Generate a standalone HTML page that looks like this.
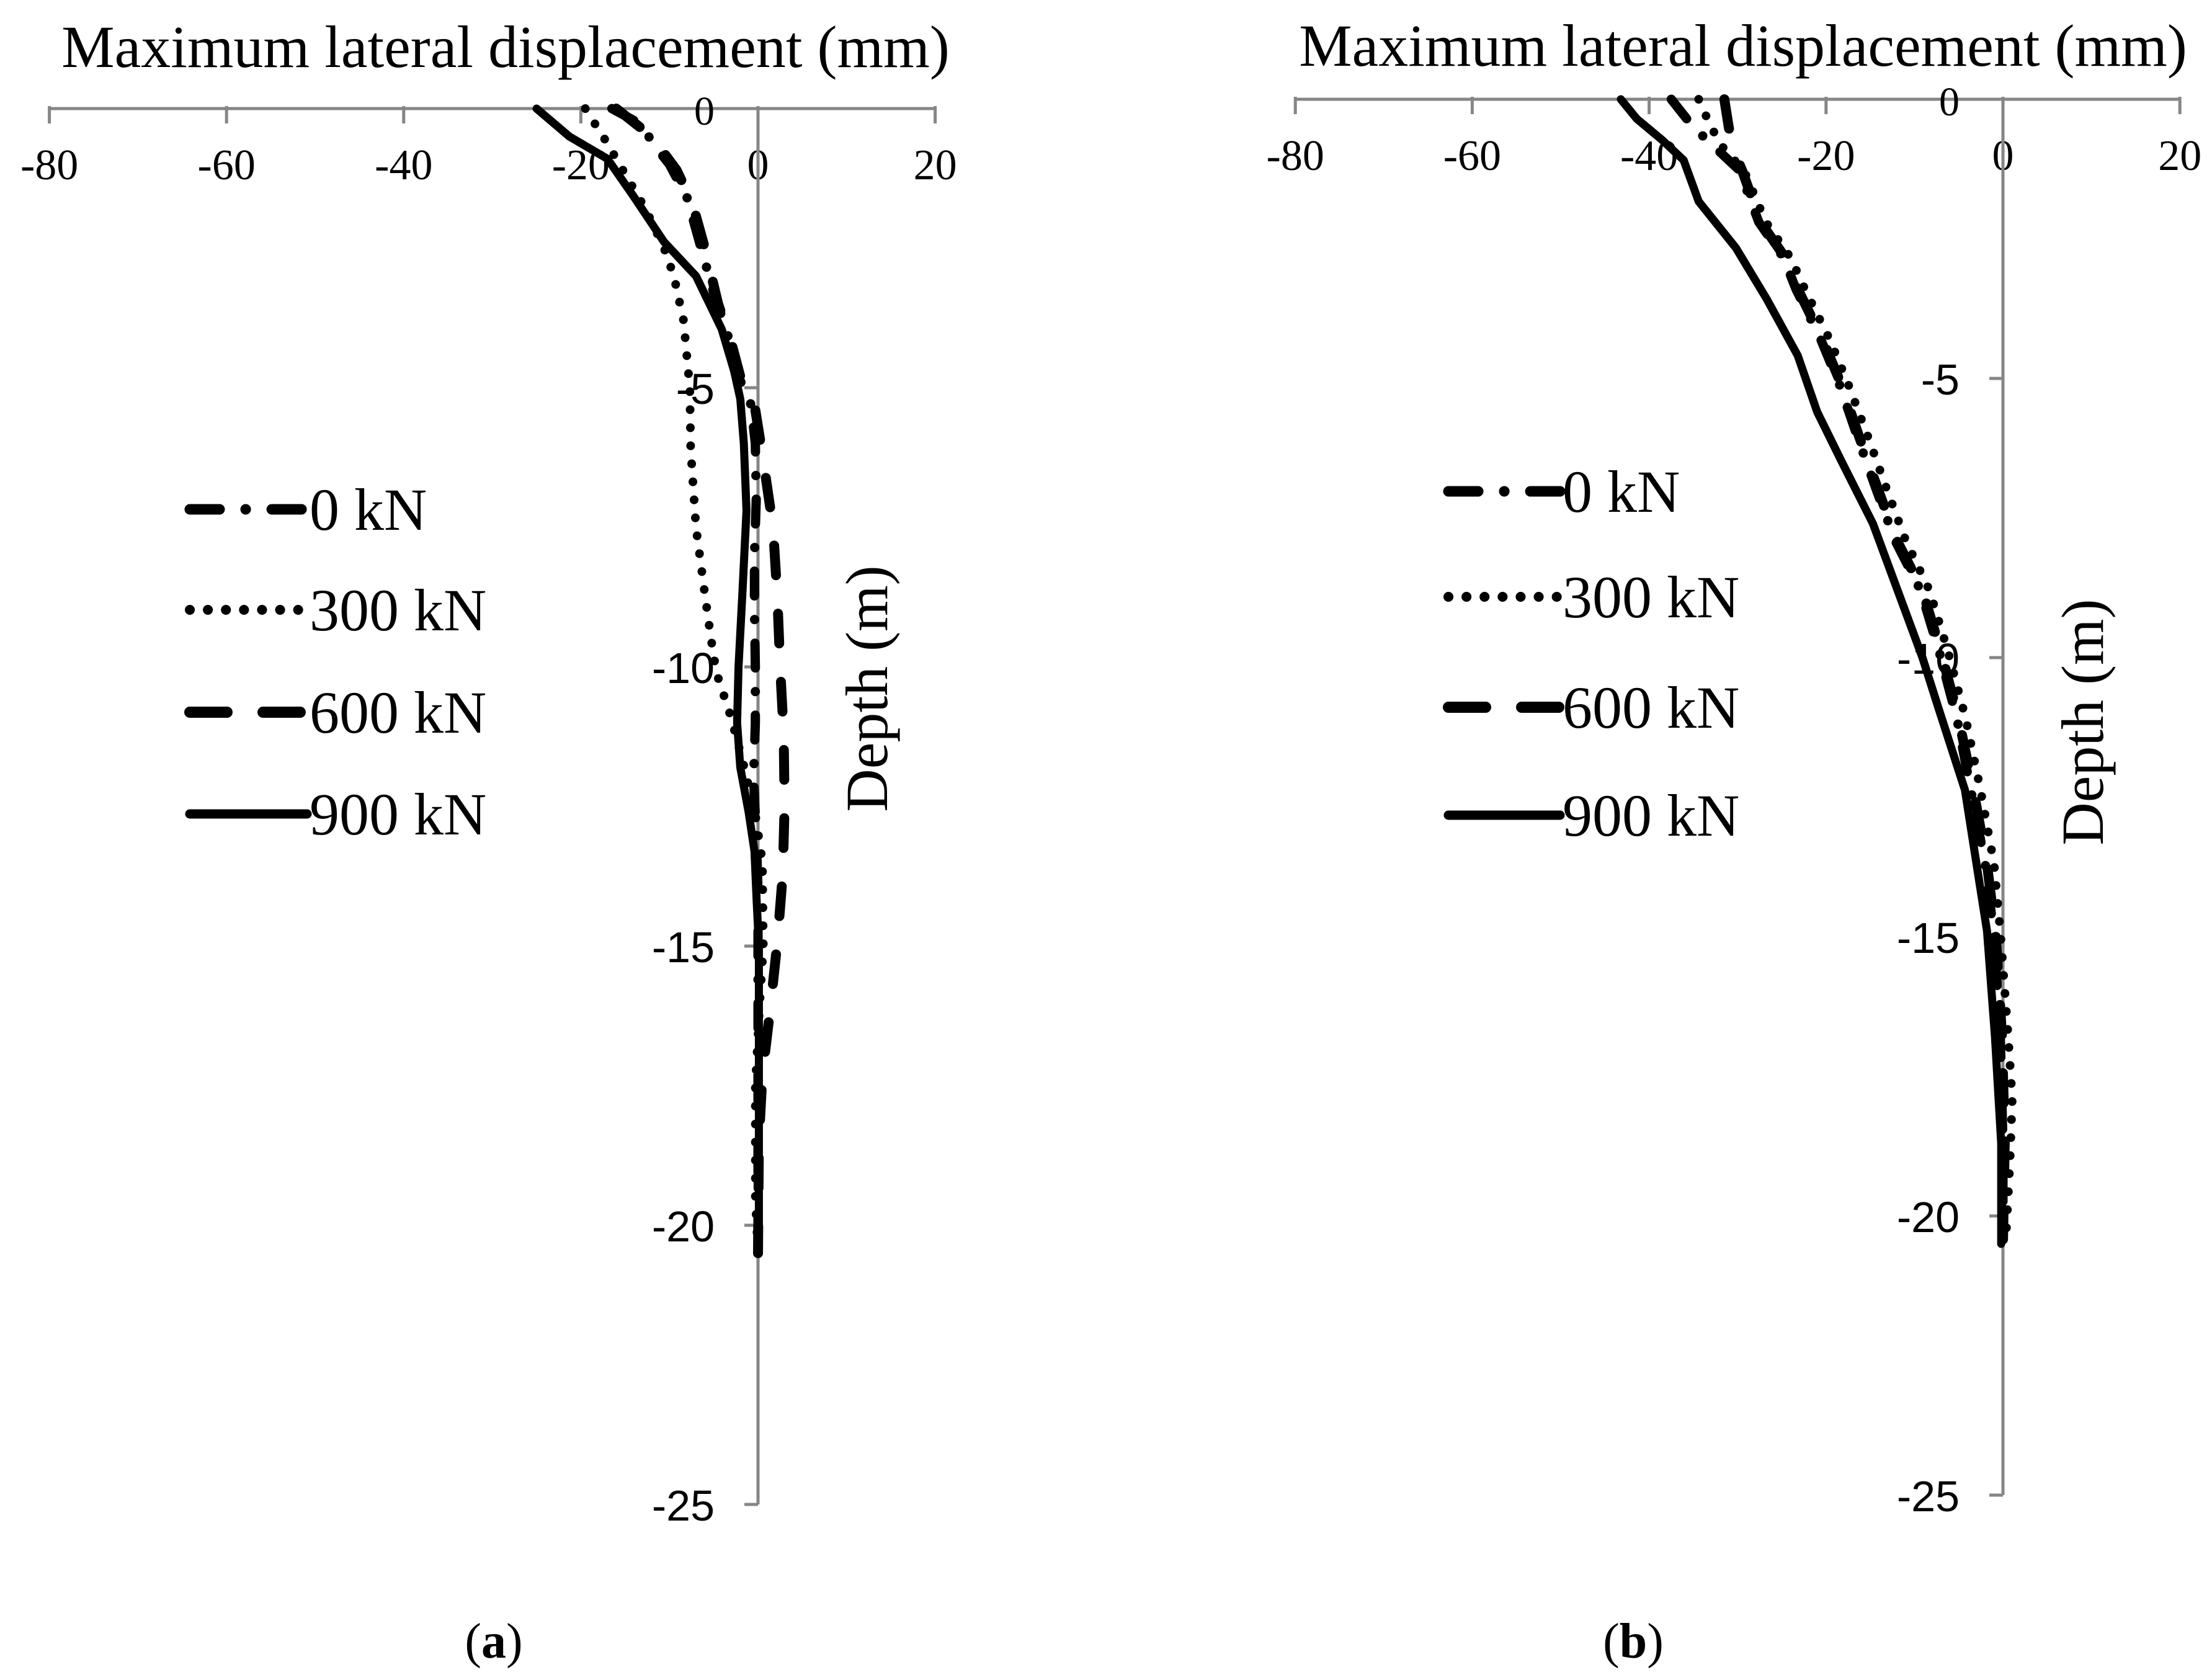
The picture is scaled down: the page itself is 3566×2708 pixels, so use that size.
<!DOCTYPE html>
<html><head><meta charset="utf-8"><style>
html,body{margin:0;padding:0;background:#fff;}
svg{display:block;}
text{font-family:"Liberation Serif",serif;fill:#000;}
.tk{font-family:"Liberation Sans",sans-serif;}
</style></head>
<body>
<svg id="chart" width="3566" height="2708" viewBox="0 0 3566 2708" xmlns="http://www.w3.org/2000/svg">
<g id="pa"></g>
<g id="pb"></g>
</svg>
<script>
// Shared ticks
const xTicks = [-80, -60, -40, -20, 0, 20];
const yTicks = [0, -5, -10, -15, -20, -25];
const seriesNames = ["0 kN", "300 kN", "600 kN", "900 kN"];

// Panel (a) data: [displacement mm, depth m]
const a0kN = [[-16.5,0],[-13,-0.3],[-12,-0.6],[-10,-1.0],[-8,-1.6],[-6.6,-2.4],[-5,-3.3],[-3.5,-4.0],[-2.5,-4.7],[-0.8,-5.3],[-0.3,-6],[-0.2,-7],[-0.4,-8],[-0.4,-9],[-0.3,-10],[-0.3,-11],[-0.5,-12],[-0.2,-13],[0,-14],[0,-17],[0,-20.5]];
const a300kN = [[-19.5,0],[-17.1,-0.6],[-12.7,-1.8],[-10.6,-2.5],[-9.5,-3.0],[-8.4,-3.8],[-7.7,-5],[-7.6,-6.1],[-7.0,-7.5],[-6.0,-8.7],[-5.3,-9.5],[-4.7,-10.1],[-3.05,-10.9],[-1.55,-11.8],[-0.25,-12.7],[0.5,-13.5],[0.6,-15],[0.2,-16],[-0.3,-17.5],[-0.3,-19.5],[0,-20.5]];
const a600kN = [[-16,0],[-12,-0.5],[-9.2,-1.1],[-7.4,-1.7],[-6,-2.5],[-4.5,-3.5],[-3,-4.2],[-2,-4.8],[-0.5,-5.2],[0.5,-6.2],[1.7,-7.5],[2.2,-8.8],[2.5,-10],[2.9,-11.2],[3.0,-12.5],[2.8,-13.7],[2.2,-14.9],[1.4,-16.1],[0.5,-17.3],[0.1,-18.5],[0,-20.5]];
const a900kN = [[-25,0],[-21.3,-0.5],[-17,-0.9],[-14.1,-1.56],[-10.6,-2.39],[-7,-3.0],[-4.1,-3.95],[-2.7,-4.7],[-2.0,-5.2],[-1.6,-6],[-1.3,-7.2],[-1.77,-8.7],[-2.2,-10],[-2.36,-11],[-2.0,-11.8],[-1.06,-12.6],[-0.4,-13.3],[-0.15,-14.2],[0.1,-15],[0.1,-18],[0.1,-20.5]];

// Panel (b) data
const b0kN = [[-37.5,0],[-35,-0.5],[-32.3,-0.9],[-29.8,-1.27],[-27.6,-2.2],[-24.8,-2.84],[-23.4,-3.4],[-20.6,-4.3],[-18.5,-5.1],[-16.4,-6.07],[-14.3,-7.0],[-12.2,-7.9],[-9.3,-8.8],[-7.2,-9.9],[-5.2,-11.1],[-3.6,-12.4],[-2.0,-13.7],[-1.0,-15],[-0.3,-16.8],[0,-18.7],[0,-20.5]];
const b300kN = [[-34.4,0],[-33,-0.5],[-31.5,-0.9],[-29.3,-1.27],[-26.8,-2.2],[-24,-2.84],[-22.4,-3.4],[-19.6,-4.3],[-17.5,-5.1],[-15.2,-6.07],[-13.1,-7.0],[-11,-7.9],[-8.3,-8.8],[-6.2,-9.9],[-4.2,-11.1],[-2.5,-12.4],[-1.0,-13.7],[-0.3,-14.9],[0.6,-16.8],[1.05,-17.9],[0.8,-19],[0.3,-20.5]];
const b600kN = [[-31.5,0],[-31,-0.5],[-30.5,-0.9],[-29.5,-1.27],[-27.4,-2.2],[-24.6,-2.84],[-23.2,-3.4],[-20.4,-4.3],[-18.3,-5.1],[-16.2,-6.07],[-14.1,-7.0],[-12,-7.9],[-9.1,-8.8],[-7.0,-9.9],[-5.0,-11.1],[-3.3,-12.4],[-1.8,-13.7],[-0.8,-15],[-0.1,-16.8],[0.2,-18.7],[0,-20.5]];
const b900kN = [[-43.2,0],[-41.4,-0.35],[-38.6,-0.72],[-36.1,-1.09],[-34.4,-1.83],[-30.2,-2.66],[-26.7,-3.58],[-23.2,-4.59],[-21.0,-5.6],[-18.2,-6.5],[-14.7,-7.6],[-11.9,-8.8],[-9.1,-10],[-7.3,-10.9],[-4.3,-12.37],[-1.8,-14.9],[-0.9,-16.8],[-0.2,-18.7],[-0.2,-20.5]];

const NS = "http://www.w3.org/2000/svg";
function mk(tag, attrs, parent){
  const e = document.createElementNS(NS, tag);
  for (const k in attrs) e.setAttribute(k, attrs[k]);
  parent.appendChild(e);
  return e;
}
const styles = [
  {dash:"40 38 0.1 38", w:15},
  {dash:"0.1 29", w:14},
  {dash:"48 62", w:16},
  {dash:"", w:13}
];

function panel(g, cfg, data){
  const xs = v => cfg.x0 + v*cfg.pxmm;
  const ys = v => cfg.y0 - v*cfg.pxm;
  const t = mk("text", {x:cfg.titleX, y:cfg.titleY, "font-size":96, "text-anchor":"middle"}, g);
  
  
  t.textContent = "Maximum lateral displacement (mm)";
  const xa = mk("line", {x1:xs(-80), x2:xs(20), y1:cfg.y0, y2:cfg.y0, stroke:"#868686", "stroke-width":5}, g);
  
  
  xTicks.forEach(v => {
    const tm = mk("line", {x1:xs(v), x2:xs(v), y1:cfg.y0-4, y2:cfg.y0+24, stroke:"#868686", "stroke-width":5}, g);
    
    
    const tl = mk("text", {x:xs(v), y:cfg.y0+114, "font-size":70, "text-anchor":"middle"}, g);
    
    
    tl.textContent = String(v);
  });
  const ya = mk("line", {x1:cfg.x0, x2:cfg.x0, y1:ys(0), y2:ys(-25), stroke:"#868686", "stroke-width":5}, g);
  
  
  yTicks.forEach(v => {
    const tm = mk("line", {x1:cfg.x0-22, x2:cfg.x0, y1:ys(v), y2:ys(v), stroke:"#868686", "stroke-width":5}, g);
    
    
    const tl = mk("text", {x:cfg.x0-70, y:ys(v)+26, "font-size":v===0?66:70, "text-anchor":"end", class:v===0?"":"tk"}, g);
    
    
    tl.textContent = String(v);
  });
  const yt = mk("text", {x:0, y:0, "font-size":96, "text-anchor":"middle", transform:"translate("+cfg.ytX+","+cfg.ytY+") rotate(-90)"}, g);
  
  
  yt.textContent = "Depth (m)";
  data.forEach((s, i) => {
    const st = styles[i];
    const p = mk("polyline", {points:s.map(d => xs(d[0])+","+ys(d[1])).join(" "), fill:"none", stroke:"#000", "stroke-width":st.w, "stroke-linecap":"round", "stroke-linejoin":"round"}, g);
    if (st.dash) p.setAttribute("stroke-dasharray", st.dash);
    
    
  });
  seriesNames.forEach((n, i) => {
    const st = styles[i];
    const y = cfg.legY[i];
    const lg = mk("g", {}, g);
    
    
    const l = mk("line", {x1:cfg.legX1, x2:cfg.legX2, y1:y, y2:y, stroke:"#000", "stroke-width":st.w+2, "stroke-linecap":"round"}, lg);
    if (st.dash) l.setAttribute("stroke-dasharray", i===0 ? "48 42 0.1 42" : i===1 ? "0.1 29" : "60 58");
    const tx = mk("text", {x:cfg.legX2+4, y:y+33, "font-size":96}, lg);
    tx.textContent = n;
  });
  const lab = mk("text", {x:cfg.labX, y:2672, "font-size":80, "text-anchor":"middle"}, g);
  
  
  lab.innerHTML = '(<tspan font-weight="bold">' + cfg.lab + '</tspan>)';
}

panel(document.getElementById("pa"),
  {x0:1222, y0:175, pxmm:14.28, pxm:90, titleX:815, titleY:108, ytX:1430, ytY:1110,
   legX1:306, legX2:495, legY:[821,983,1148,1312], labX:796, lab:"a"},
  [a0kN, a300kN, a600kN, a900kN]);
panel(document.getElementById("pb"),
  {x0:3229, y0:160, pxmm:14.26, pxm:90, titleX:2810, titleY:106, ytX:3390, ytY:1164,
   legX1:2335, legX2:2515, legY:[792,962,1140,1314], labX:2633, lab:"b"},
  [b0kN, b300kN, b600kN, b900kN]);
</script>
</body></html>
